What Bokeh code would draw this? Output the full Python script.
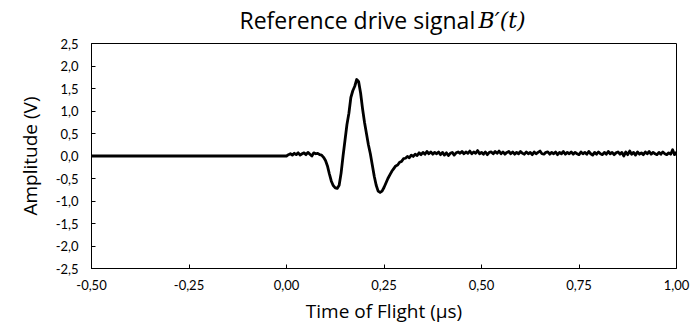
import numpy as np
from bokeh.plotting import figure
from bokeh.layouts import column
from bokeh.models import Range1d, FixedTicker, CustomJSTickFormatter
from bokeh.core.properties import value
from bokeh.embed import file_html
from bokeh.resources import INLINE

# ---------------- data ----------------
title_main = "Reference drive signal"
title_math = "B\u2032(t)"
x_label = "Time of Flight (\u03bcs)"
y_label = "Amplitude (V)"

x_ticks = [-0.5, -0.25, 0.0, 0.25, 0.5, 0.75, 1.0]
x_tick_labels = ["-0,50", "-0,25", "0,00", "0,25", "0,50", "0,75", "1,00"]
y_ticks = [-2.5, -2.0, -1.5, -1.0, -0.5, 0.0, 0.5, 1.0, 1.5, 2.0, 2.5]
y_tick_labels = ["-2,5", "-2,0", "-1,5", "-1,0", "-0,5", "0,0", "0,5", "1,0", "1,5", "2,0", "2,5"]

# flat lead-in before the drive starts (time in us, amplitude in V)
lead_time = [-0.50, 0.00]
lead_amp = [0.0, 0.0]

# sampled drive signal from t = 0.000 us, one sample every 0.005 us
sample_start = 0.0
sample_step = 0.005
signal_amp = [
    # 0.000 - 0.095
    0.00, 0.03, 0.05, 0.02, 0.06, 0.03, 0.07, 0.02, 0.05, 0.07,
    0.03, 0.08, 0.04, 0.00, 0.07, 0.05, 0.06, 0.03, 0.02, -0.03,
    # 0.100 - 0.195
    -0.10, -0.22, -0.40, -0.56, -0.66, -0.71, -0.72, -0.65, -0.38, 0.00,
    0.35, 0.70, 0.95, 1.30, 1.45, 1.55, 1.70, 1.65, 1.40, 1.05,
    # 0.200 - 0.295
    0.75, 0.50, 0.25, 0.05, -0.20, -0.45, -0.65, -0.78, -0.81, -0.78,
    -0.70, -0.60, -0.50, -0.42, -0.34, -0.28, -0.22, -0.20, -0.14, -0.12,
    # 0.300 - 0.395
    -0.06, -0.05, -0.01, -0.04, 0.02, -0.01, 0.04, 0.01, 0.07, 0.03,
    0.08, 0.04, 0.10, 0.05, 0.09, 0.04, 0.08, 0.05, 0.09, 0.03,
    # 0.400 - 0.495
    0.08, 0.02, 0.07, 0.01, 0.06, 0.08, 0.02, 0.07, 0.09, 0.06,
    0.10, 0.05, 0.09, 0.06, 0.11, 0.05, 0.09, 0.06, 0.12, 0.05,
    # 0.500 - 0.595
    0.08, 0.04, 0.09, 0.03, 0.08, 0.09, 0.05, 0.10, 0.06, 0.11,
    0.05, 0.09, 0.04, 0.08, 0.10, 0.05, 0.09, 0.04, 0.08, 0.05,
    # 0.600 - 0.695
    0.10, 0.06, 0.04, 0.09, 0.05, 0.08, 0.03, 0.09, 0.05, 0.08,
    0.11, 0.05, 0.04, 0.08, 0.09, 0.04, 0.08, 0.05, 0.09, 0.03,
    # 0.700 - 0.795
    0.08, 0.05, 0.10, 0.04, 0.08, 0.05, 0.09, 0.04, 0.08, 0.05,
    0.03, 0.09, 0.05, 0.08, 0.04, 0.10, 0.05, 0.02, 0.08, 0.04,
    # 0.800 - 0.895
    0.09, 0.05, 0.03, 0.08, 0.04, 0.10, 0.05, 0.08, 0.03, 0.07,
    0.09, 0.04, 0.08, 0.00, 0.09, 0.03, 0.11, 0.04, 0.08, 0.02,
    # 0.900 - 0.995
    0.09, 0.04, 0.07, 0.03, 0.09, 0.05, 0.10, 0.04, 0.08, 0.05,
    0.03, 0.08, 0.04, 0.09, 0.05, 0.03, 0.07, 0.04, 0.14, 0.03,
    # 1.000
    0.09,
]

# ---------------- build ----------------
sample_time = [float(v) for v in np.round(sample_start + sample_step * np.arange(len(signal_amp)), 3)]
time_all = lead_time + sample_time[1:]
amp_all = lead_amp + signal_amp[1:]

TICK_FONT = "Lato"
LABEL_FONT = "Open Sans"
W = 693
HEAD_H = 35
BORDER_L = 91
BORDER_R = 17

# ---- header strip holding the title ----
# in a column the header's frame is aligned with the chart frame, so its
# x range spans the same pixel columns as the chart frame (91 .. 676)
head = figure(
    width=W, height=HEAD_H, title=None,
    output_backend="svg", toolbar_location=None,
    x_range=Range1d(BORDER_L, W - BORDER_R), y_range=Range1d(0, HEAD_H),
    x_axis_type=None, y_axis_type=None,
    min_border=0, min_border_left=BORDER_L, min_border_right=BORDER_R,
    min_border_top=0, min_border_bottom=0,
)
head.grid.visible = False
head.outline_line_color = None
head.background_fill_color = "white"
head.border_fill_color = "white"
head.text(x=[239], y=[HEAD_H - 19.5], text=[title_main],
          text_align="left", text_baseline="middle",
          text_font=value(LABEL_FONT), text_font_size="23px", text_color="black")
head.text(x=[478], y=[HEAD_H - 19.5], text=[title_math],
          text_align="left", text_baseline="middle",
          text_font=value("DejaVu Serif"), text_font_style="italic",
          text_font_size="22px", text_color="black")

# ---- main chart ----
p = figure(
    width=W, height=331 - HEAD_H, title=None,
    output_backend="svg", toolbar_location=None,
    x_range=Range1d(-0.5, 1.0), y_range=Range1d(-2.5, 2.5),
    min_border_left=BORDER_L, min_border_right=BORDER_R,
    min_border_top=43 - HEAD_H, min_border_bottom=63,
)
p.background_fill_color = "white"
p.border_fill_color = "white"
p.xgrid.visible = False
p.ygrid.visible = False
p.outline_line_color = "black"
p.outline_line_width = 1
p.outline_line_alpha = 1.0

p.line(time_all, amp_all, line_color="black", line_width=2.8, line_join="round")

fmt_js = """
let best = 0;
for (let i = 0; i < tick_vals.length; i++) {
  if (Math.abs(tick_vals[i] - tick) < Math.abs(tick_vals[best] - tick)) best = i;
}
return tick_text[best];
"""
p.xaxis.ticker = FixedTicker(ticks=x_ticks)
p.yaxis.ticker = FixedTicker(ticks=y_ticks)
p.xaxis.formatter = CustomJSTickFormatter(args=dict(tick_vals=x_ticks, tick_text=x_tick_labels), code=fmt_js)
p.yaxis.formatter = CustomJSTickFormatter(args=dict(tick_vals=y_ticks, tick_text=y_tick_labels), code=fmt_js)

for ax in (p.xaxis, p.yaxis):
    ax.axis_line_color = "black"
    ax.major_tick_line_color = "black"
    ax.major_tick_in = 4
    ax.major_tick_out = 0
    ax.minor_tick_line_color = None
    ax.major_label_text_font = TICK_FONT
    ax.major_label_text_font_size = "13px"
    ax.major_label_text_color = "black"
    ax.axis_label_text_font = LABEL_FONT
    ax.axis_label_text_font_size = "19px"
    ax.axis_label_text_font_style = "normal"
    ax.axis_label_text_color = "black"

p.xaxis.axis_label = x_label
p.yaxis.axis_label = y_label
p.xaxis.major_label_standoff = 11
p.yaxis.major_label_standoff = 13
p.xaxis.axis_label_standoff = 5
p.yaxis.axis_label_standoff = 10

layout = column(head, p, spacing=0)
open("out.html", "w").write(file_html(layout, INLINE))
